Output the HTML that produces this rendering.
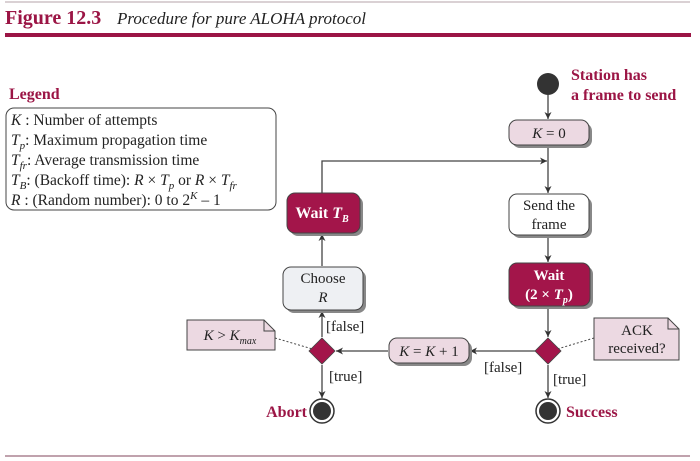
<!DOCTYPE html>
<html><head><style>
html,body{margin:0;padding:0;background:#fff;}
svg{display:block;font-family:"Liberation Serif",serif;}
</style></head><body>
<svg width="700" height="461" viewBox="0 0 700 461" xmlns="http://www.w3.org/2000/svg">
<defs>
<marker id="ar" markerWidth="8" markerHeight="8" refX="7" refY="4" orient="auto" markerUnits="userSpaceOnUse">
<path d="M0,0.5 L7,4 L0,7.5 L2,4 Z" fill="#333"/></marker>
</defs>
<line x1="5" y1="2" x2="690" y2="2" stroke="#b6a3aa" stroke-width="1"/>
<text x="5" y="24" font-size="20" font-weight="bold" fill="#9b1545">Figure 12.3</text>
<text x="117" y="24" font-size="17" font-style="italic" fill="#222">Procedure for pure ALOHA protocol</text>
<rect x="5" y="33" width="686" height="4" fill="#9b1545"/>
<line x1="5" y1="456" x2="690" y2="456" stroke="#9b6a7c" stroke-width="1.2"/>

<!-- Legend -->
<text x="9" y="99" font-size="16" font-weight="bold" fill="#9b1545">Legend</text>
<rect x="6" y="108" width="270" height="102" rx="8" fill="#fff" stroke="#444" stroke-width="1"/>
<g font-size="15.5" fill="#222">
<text x="11" y="125"><tspan font-style="italic">K</tspan> : Number of attempts</text>
<text x="11" y="145"><tspan font-style="italic">T</tspan><tspan font-style="italic" font-size="11" dy="4">p</tspan><tspan dy="-4">: Maximum propagation time</tspan></text>
<text x="11" y="165"><tspan font-style="italic">T</tspan><tspan font-style="italic" font-size="11" dy="4">fr</tspan><tspan dy="-4">: Average transmission time</tspan></text>
<text x="11" y="185"><tspan font-style="italic">T</tspan><tspan font-style="italic" font-size="11" dy="4">B</tspan><tspan dy="-4">: (Backoff time): </tspan><tspan font-style="italic">R</tspan> × <tspan font-style="italic">T</tspan><tspan font-style="italic" font-size="11" dy="4">p</tspan><tspan dy="-4"> or </tspan><tspan font-style="italic">R</tspan> × <tspan font-style="italic">T</tspan><tspan font-style="italic" font-size="11" dy="4">fr</tspan></text>
<text x="11" y="205"><tspan font-style="italic">R</tspan> : (Random number): 0 to 2<tspan font-size="11" dy="-6" font-style="italic">K</tspan><tspan dy="6"> – 1</tspan></text>
</g>

<!-- start -->
<circle cx="548" cy="84" r="11" fill="#333"/>
<text x="571" y="80" font-size="16" font-weight="bold" fill="#9b1545">Station has</text>
<text x="571" y="100" font-size="16" font-weight="bold" fill="#9b1545">a frame to send</text>

<g stroke="#444" stroke-width="1.3" fill="none">
<line x1="548" y1="95" x2="548" y2="119" marker-end="url(#ar)"/>
<line x1="548" y1="146" x2="548" y2="193" marker-end="url(#ar)"/>
<polyline points="322,193 322,161 547,161" marker-end="url(#ar)"/>
<line x1="548" y1="236" x2="548" y2="262" marker-end="url(#ar)"/>
<line x1="548" y1="307" x2="548" y2="337" marker-end="url(#ar)"/>
<line x1="535" y1="351" x2="470" y2="351" marker-end="url(#ar)"/>
<line x1="388" y1="351" x2="336" y2="351" marker-end="url(#ar)"/>
<line x1="322" y1="337" x2="322" y2="311" marker-end="url(#ar)"/>
<line x1="322" y1="266" x2="322" y2="234" marker-end="url(#ar)"/>
<line x1="322" y1="365" x2="322" y2="398" marker-end="url(#ar)"/>
<line x1="548" y1="365" x2="548" y2="398" marker-end="url(#ar)"/>
</g>
<g stroke="#444" stroke-width="1" stroke-dasharray="2,2">
<line x1="275" y1="338" x2="316" y2="350"/>
<line x1="594" y1="338" x2="554" y2="350"/>
</g>

<g fill="#888">
<rect x="512" y="123" width="80" height="25" rx="8"/>
<rect x="512" y="197" width="80" height="41" rx="8"/>
<rect x="512" y="266" width="81" height="43" rx="8"/>
<rect x="290" y="196" width="73" height="40" rx="8"/>
<rect x="286" y="270" width="80" height="43" rx="8"/>
<rect x="392" y="341" width="80" height="25" rx="8"/>
</g>
<rect x="509" y="120" width="80" height="25" rx="8" fill="#ecd9e2" stroke="#444"/>
<text x="549" y="138" font-size="15" text-anchor="middle" fill="#222"><tspan font-style="italic">K</tspan> = 0</text>
<rect x="509" y="194" width="80" height="41" rx="8" fill="#fff" stroke="#444"/>
<text x="549" y="210" font-size="15" text-anchor="middle" fill="#222">Send the</text>
<text x="549" y="229" font-size="15" text-anchor="middle" fill="#222">frame</text>
<rect x="509" y="263" width="81" height="43" rx="8" fill="#a3154a" stroke="#444"/>
<text x="549" y="280" font-size="15" font-weight="bold" text-anchor="middle" fill="#fff">Wait</text>
<text x="549" y="299" font-size="15" font-weight="bold" text-anchor="middle" fill="#fff">(2 × <tspan font-style="italic">T</tspan><tspan font-size="10" dy="4" font-style="italic">p</tspan><tspan dy="-4">)</tspan></text>
<rect x="287" y="193" width="73" height="40" rx="8" fill="#a3154a" stroke="#444"/>
<text x="322" y="218" font-size="16" font-weight="bold" text-anchor="middle" fill="#fff">Wait <tspan font-style="italic">T</tspan><tspan font-size="10" dy="4" font-style="italic">B</tspan></text>
<rect x="283" y="267" width="80" height="43" rx="8" fill="#eef0f3" stroke="#444"/>
<text x="323" y="283" font-size="15" text-anchor="middle" fill="#222">Choose</text>
<text x="323" y="302" font-size="15" text-anchor="middle" font-style="italic" fill="#222">R</text>
<rect x="389" y="338" width="80" height="25" rx="8" fill="#ecd9e2" stroke="#444"/>
<text x="429" y="356" font-size="15" text-anchor="middle" fill="#222"><tspan font-style="italic">K</tspan> = <tspan font-style="italic">K</tspan> + 1</text>

<path d="M548,338 L561,351 L548,364 L535,351 Z" fill="#a3154a" stroke="#444" stroke-width="0.8"/>
<path d="M322,338 L335,351 L322,364 L309,351 Z" fill="#a3154a" stroke="#444" stroke-width="0.8"/>

<path d="M187,320 L264,320 L275,331 L275,350 L187,350 Z" fill="#ecd9e2" stroke="#444"/>
<path d="M264,320 L264,331 L275,331" fill="none" stroke="#444"/>
<text x="230" y="340" font-size="15" text-anchor="middle" fill="#222"><tspan font-style="italic">K</tspan> &gt; <tspan font-style="italic">K</tspan><tspan font-size="10" dy="4" font-style="italic">max</tspan></text>
<path d="M594,318 L668,318 L679,329 L679,360 L594,360 Z" fill="#ecd9e2" stroke="#444"/>
<path d="M668,318 L668,329 L679,329" fill="none" stroke="#444"/>
<text x="637" y="335" font-size="15" text-anchor="middle" fill="#222">ACK</text>
<text x="637" y="353" font-size="15" text-anchor="middle" fill="#222">received?</text>

<g font-size="15" fill="#222">
<text x="326" y="331">[false]</text>
<text x="329" y="381">[true]</text>
<text x="484" y="372">[false]</text>
<text x="553" y="384">[true]</text>
</g>

<circle cx="322" cy="411" r="12" fill="#fff" stroke="#333" stroke-width="1.5"/>
<circle cx="322" cy="411" r="9" fill="#333"/>
<circle cx="548" cy="411" r="12" fill="#fff" stroke="#333" stroke-width="1.5"/>
<circle cx="548" cy="411" r="9" fill="#333"/>
<text x="307" y="417" font-size="16" font-weight="bold" text-anchor="end" fill="#9b1545">Abort</text>
<text x="566" y="417" font-size="16" font-weight="bold" fill="#9b1545">Success</text>
</svg>
</body></html>
